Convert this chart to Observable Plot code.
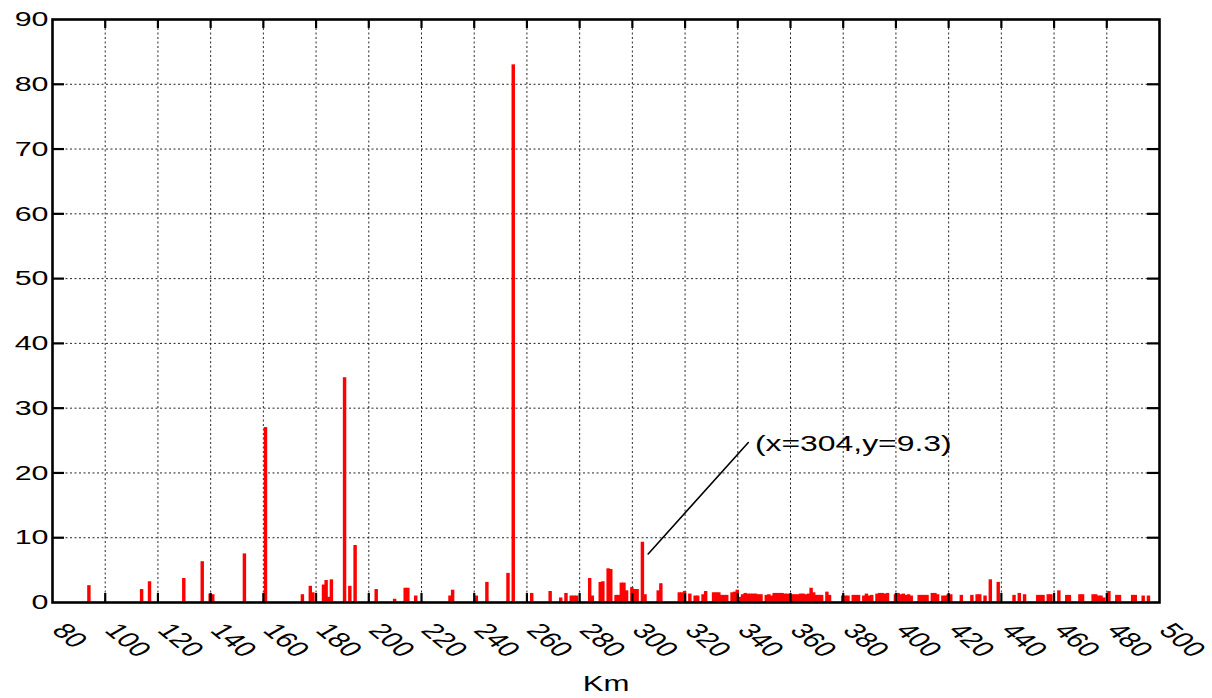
<!DOCTYPE html>
<html>
<head>
<meta charset="utf-8">
<script src="https://cdn.jsdelivr.net/npm/d3@7"></script>
<script src="https://cdn.jsdelivr.net/npm/@observablehq/plot@0.6"></script>
<style>
  html, body { margin: 0; padding: 0; background: #fff; }
  #chart { width: 1212px; height: 698px; }
</style>
</head>
<body>
<div id="chart"></div>
<script>
// ---- data ----
const km = [
  94, 114, 117, 130, 137, 140, 141, 153, 161,
  175, 178, 179, 183, 184, 185, 186, 191, 193, 195,
  203, 210, 214, 215, 218, 231, 232, 241, 245,
  253, 255, 262, 269, 273, 275, 277, 278, 279,
  284, 285, 288, 289, 291, 292, 294, 295, 296, 297, 298,
  300, 301, 302, 304, 305, 310, 311, 318, 319, 320,
  322, 324, 325, 327, 328, 331, 332, 333, 334, 335, 336,
  338, 339, 340, 341, 342, 343, 344, 345, 346, 347, 348, 349,
  351, 352, 353, 354, 355, 356, 357, 358, 359,
  360, 361, 362, 363, 364, 365, 366, 367, 368, 369,
  370, 371, 372, 374, 375, 380, 381, 382, 384, 385, 386,
  388, 389, 390, 391, 393, 394, 395, 396, 397,
  400, 401, 402, 403, 404, 405, 406, 409, 410, 411, 412,
  414, 415, 416, 418, 419, 420, 421, 425, 429,
  431, 432, 434, 436, 439, 445, 447, 449,
  454, 455, 456, 458, 459, 462, 465, 466,
  470, 471, 475, 476, 477, 478, 479, 481, 484, 485,
  490, 491, 494, 496
];
const value = [
  2.6, 2.0, 3.2, 3.7, 6.3, 1.3, 1.2, 7.5, 27.0,
  1.2, 2.5, 1.5, 2.7, 3.4, 0.8, 3.5, 34.7, 2.5, 8.8,
  2.0, 0.5, 2.2, 2.2, 1.0, 1.0, 1.9, 1.0, 3.1,
  4.5, 83.0, 1.4, 1.7, 0.7, 1.4, 1.0, 1.0, 1.0,
  3.7, 1.0, 3.1, 3.2, 5.2, 5.1, 1.1, 1.1, 3.0, 3.0, 1.8,
  2.3, 2.0, 2.0, 9.3, 1.2, 1.8, 2.9, 1.5, 1.5, 1.7,
  1.3, 1.0, 1.0, 1.2, 1.7, 1.5, 1.5, 1.5, 1.1, 1.1, 1.1,
  1.5, 1.6, 1.9, 0.8, 1.2, 1.4, 1.3, 1.3, 1.3, 1.3, 1.2, 1.2,
  1.1, 1.2, 1.0, 1.4, 1.4, 1.4, 1.4, 1.3, 1.3,
  1.2, 1.2, 1.2, 1.2, 1.3, 1.3, 1.2, 1.3, 2.2, 1.5,
  1.1, 1.1, 1.1, 1.6, 1.1, 1.0, 1.0, 1.0, 1.1, 1.1, 1.1,
  1.0, 1.3, 1.0, 1.1, 1.3, 1.4, 1.4, 1.3, 1.4,
  1.2, 1.4, 1.2, 1.3, 1.1, 1.2, 1.0, 1.1, 1.1, 1.1, 1.1,
  1.4, 1.4, 1.2, 1.0, 1.0, 1.2, 1.2, 1.1, 1.1,
  1.2, 1.2, 1.0, 3.5, 3.1, 1.1, 1.4, 1.2,
  1.1, 1.1, 1.1, 1.2, 1.2, 1.8, 1.1, 1.1,
  1.2, 1.2, 1.2, 1.2, 1.0, 1.0, 0.7, 1.7, 1.1, 1.1,
  1.1, 1.1, 1.0, 1.0
];
const xTickLabels = [80, 100, 120, 140, 160, 180, 200, 220, 240, 260, 280, 300, 320, 340, 360, 380, 400, 420, 440, 460, 480, 500];
const yTickLabels = [0, 10, 20, 30, 40, 50, 60, 70, 80, 90];
const xGrid = [100, 120, 140, 160, 180, 200, 220, 240, 260, 280, 300, 320, 340, 360, 380, 400, 420, 440, 460, 480];
const yGrid = [10, 20, 30, 40, 50, 60, 70, 80];
const xLabel = "Km";
const annotationText = "(x=304,y=9.3)";
const annotationLineX = [306, 344];
const annotationLineY = [7.5, 24.7];
const annotationTextX = [346.5];
const annotationTextY = [24.4];

// ---- build tables ----
const bars = km.map((k, i) => ({x: k, y: value[i]}));
const annLine = annotationLineX.map((x, i) => ({x, y: annotationLineY[i]}));
const annText = annotationTextX.map((x, i) => ({x, y: annotationTextY[i], t: annotationText}));

const W = 1212, H = 698;
const mL = 52, mR = 53, mT = 19, mB = 96;
const plotW = W - mL - mR, plotH = H - mT - mB;
const font = "'Liberation Sans', Arial, Helvetica, sans-serif";
const halfW = 0.65;
const SX = 1.45; // horizontal stretch of the glyphs seen in the reference

const chart = Plot.plot({
  width: W, height: H,
  marginLeft: mL, marginRight: mR, marginTop: mT, marginBottom: mB,
  x: {domain: [80, 500], axis: null},
  y: {domain: [0, 90], axis: null},
  style: {fontFamily: font, background: "#fff", color: "#000"},
  marks: [
    Plot.ruleX(xGrid, {stroke: "#000", strokeWidth: 1, strokeOpacity: 0.85, strokeDasharray: "2,2.5"}),
    Plot.ruleY(yGrid, {stroke: "#000", strokeWidth: 1, strokeOpacity: 0.85, strokeDasharray: "2,2.5"}),
    Plot.rect(bars, {x1: d => d.x - halfW, x2: d => d.x + halfW, y1: 0, y2: "y", fill: "#ff0000"}),
    // inward ticks
    Plot.ruleX(xGrid, {stroke: "#000", strokeWidth: 2.2, insetTop: plotH - 9}),
    Plot.ruleX(xGrid, {stroke: "#000", strokeWidth: 2.2, insetBottom: plotH - 9}),
    Plot.ruleY(yGrid, {stroke: "#000", strokeWidth: 2.2, insetRight: plotW - 12}),
    Plot.ruleY(yGrid, {stroke: "#000", strokeWidth: 2.2, insetLeft: plotW - 12}),
    Plot.frame({stroke: "#000", strokeWidth: 2.6}),
    // tick labels
    Plot.text(yTickLabels, {y: d => d, text: d => String(d), frameAnchor: "left", textAnchor: "end", lineAnchor: "middle", dx: -4, fontSize: 21, fill: "#000"}),
    Plot.text(xTickLabels, {x: d => d, text: d => String(d), frameAnchor: "bottom", textAnchor: "start", lineAnchor: "middle", rotate: 50, dx: 6, dy: 24, fontSize: 21.5, fill: "#000"}),
    Plot.text([xLabel], {text: d => d, frameAnchor: "bottom", textAnchor: "middle", lineAnchor: "middle", dy: 82, fontSize: 21.5, fill: "#000"}),
    // annotation
    Plot.line(annLine, {x: "x", y: "y", stroke: "#000", strokeWidth: 1.6}),
    Plot.text(annText, {x: "x", y: "y", text: "t", textAnchor: "start", lineAnchor: "middle", fontSize: 22, fill: "#000"})
  ]
});

document.getElementById("chart").appendChild(chart);

// stretch glyphs horizontally as in the reference
chart.querySelectorAll("text").forEach(t => {
  const tr = t.getAttribute("transform");
  if (tr && /^translate\(/.test(tr)) {
    t.setAttribute("transform", tr.replace(/^(translate\([^)]*\))/, `$1 scale(${SX},1)`));
  } else {
    const x = +t.getAttribute("x") || 0, y = +t.getAttribute("y") || 0;
    t.removeAttribute("x"); t.removeAttribute("y");
    t.setAttribute("transform", `translate(${x},${y}) scale(${SX},1)` + (tr ? " " + tr : ""));
  }
});
</script>
</body>
</html>
